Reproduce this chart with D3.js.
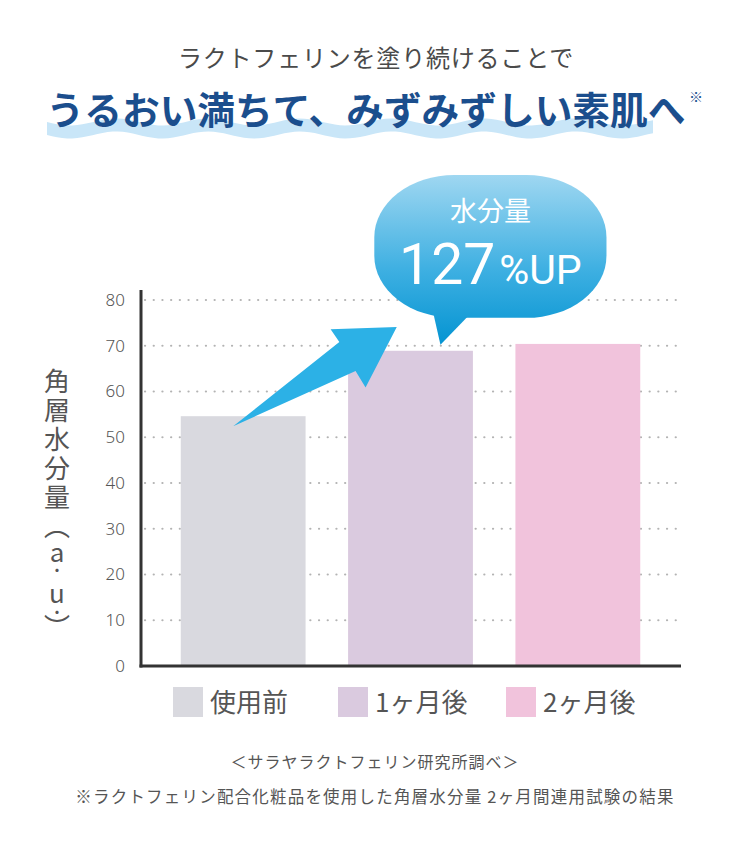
<!DOCTYPE html>
<html>
  <head>
    <meta http-equiv="Content-Type" content="text/html;charset=utf-8"/>
    <title>角層水分量</title>
    <script src="https://d3js.org/d3.v7.min.js"></script>
  </head>
  <body>
    <style>
      body { margin: 0; background: #fff; }
      svg text { font-family: "Noto Sans CJK JP", "Noto Sans", sans-serif; }
    </style>
    <script type="text/javascript">
        // data
        const categories = ['使用前', '1ヶ月後', '2ヶ月後']
        const values = [54.6, 68.9, 70.4]
        const barColors = ['#d9d9df', '#dacadf', '#f1c3dc']
        const yTicks = [0, 10, 20, 30, 40, 50, 60, 70, 80]
        const subTitle = 'ラクトフェリンを塗り続けることで'
        const mainTitle = 'うるおい満ちて、みずみずしい素肌へ'
        // vertical axis title, split so the unit part can be set tighter
        const yTitleChars = ['角', '層', '水', '分', '量', '（', 'a', '・', 'u', '・', '）']
        const yTitleSpacing = [3, 3, 3, 3, 3, 0, -2, 2, -1, -6, 0]
        const bubbleLabel = '水分量'
        const bubbleValue = '127'
        const bubbleUnit = '%UP'
        const notes = ['＜サラヤラクトフェリン研究所調べ＞', '※ラクトフェリン配合化粧品を使用した角層水分量 2ヶ月間連用試験の結果']

        const width = 750,
            height = 850

        const svg = d3.select('body').append('svg')
            .attr('width', width)
            .attr('height', height)

        const x = d3.scaleBand()
            .domain(categories)
            .range([159.5, 661.5])
            .paddingInner(0.254)
            .paddingOuter(0.127)

        const y = d3.scaleLinear()
            .domain([0, 80])
            .range([666, 300])

        const color = d3.scaleOrdinal().domain(categories).range(barColors)

        const axisX = 141, gridRight = 681

        // titles
        svg.append('text')
            .attr('x', 376).attr('y', 67)
            .attr('text-anchor', 'middle')
            .attr('font-size', 24)
            .attr('fill', '#4a4a4a')
            .style('letter-spacing', '0.8px')
            .text(subTitle)

        // wave band under the main title
        const waveLeft = 47, waveRight = 653
        const wave = d3.path()
        const wl = 92, amp = 3.5
        const steps = 120
        const pts = d3.range(steps + 1).map(i => waveLeft + (waveRight - waveLeft) * i / steps)
        pts.forEach((px, i) => {
            const py = 122 + amp * Math.sin((px - waveLeft) / wl * 2 * Math.PI)
            if (i === 0) wave.moveTo(px, py); else wave.lineTo(px, py)
        })
        pts.slice().reverse().forEach(px => {
            wave.lineTo(px, 135 + amp * Math.sin((px - waveLeft) / wl * 2 * Math.PI))
        })
        wave.closePath()
        svg.append('path')
            .attr('d', wave.toString())
            .attr('fill', '#c9e6f8')

        svg.append('text')
            .attr('x', 366).attr('y', 124)
            .attr('text-anchor', 'middle')
            .attr('font-size', 37.7)
            .attr('font-weight', 700)
            .attr('fill', '#1b4e8d')
            .text(mainTitle)

        svg.append('text')
            .attr('x', 689).attr('y', 102)
            .attr('font-size', 14)
            .attr('fill', '#1b4e8d')
            .text('※')

        // grid
        svg.append('g')
            .selectAll('line')
            .data(yTicks.filter(d => d > 0))
            .enter()
            .append('line')
            .attr('x1', axisX + 4)
            .attr('x2', gridRight)
            .attr('y1', d => y(d))
            .attr('y2', d => y(d))
            .attr('stroke', '#b3b3b3')
            .attr('stroke-width', 2.2)
            .attr('stroke-linecap', 'round')
            .attr('stroke-dasharray', '0.1,8.6')

        // bars
        svg.append('g')
            .selectAll('rect')
            .data(values)
            .enter()
            .append('rect')
            .attr('x', (d, i) => x(categories[i]))
            .attr('width', x.bandwidth())
            .attr('y', d => y(d))
            .attr('height', d => y(0) - y(d))
            .attr('fill', (d, i) => color(categories[i]))

        // axes
        const yAxis = svg.append('g')
            .attr('transform', `translate(${axisX},0)`)
            .call(d3.axisLeft(y).tickValues(yTicks).tickSize(0).tickPadding(16))
        yAxis.select('.domain').remove()
        yAxis.selectAll('text')
            .attr('font-size', 17)
            .attr('fill', '#555')
            .style('font-family', '"Noto Sans", sans-serif')
            .style('font-weight', 300)

        svg.append('line')
            .attr('x1', axisX).attr('x2', axisX)
            .attr('y1', 290).attr('y2', y(0) + 1.5)
            .attr('stroke', '#333').attr('stroke-width', 3)
        svg.append('line')
            .attr('x1', axisX - 1.5).attr('x2', gridRight)
            .attr('y1', y(0)).attr('y2', y(0))
            .attr('stroke', '#333').attr('stroke-width', 3)

        // y title (vertical writing)
        svg.append('text')
            .attr('x', 57).attr('y', 368)
            .attr('font-size', 26)
            .attr('fill', '#555')
            .style('writing-mode', 'vertical-rl')
            .style('text-orientation', 'upright')
            .selectAll('tspan')
            .data(yTitleChars)
            .enter()
            .append('tspan')
            .attr('font-size', d => d === '・' ? 15 : 26)
            .style('letter-spacing', (d, i) => yTitleSpacing[i] + 'px')
            .text(d => d)

        // arrow from first bar to second
        const b0 = x(categories[0]), b1 = x(categories[1]), bw = x.bandwidth()
        const arrowPts = [
            [b0 + bw * 0.42, y(52.4)],
            [b1 - bw * 0.07, y(70.8)],
            [b1 - bw * 0.14, y(73.6)],
            [b1 + bw * 0.39, y(74.1)],
            [b1 + bw * 0.14, y(60.9)],
            [b1 + bw * 0.06, y(64.5)]
        ]
        svg.append('path')
            .attr('d', d3.line()(arrowPts) + 'Z')
            .attr('fill', '#2cb1e6')

        // speech bubble
        const defs = svg.append('defs')
        const grad = defs.append('linearGradient')
            .attr('id', 'bubbleGrad')
            .attr('gradientUnits', 'userSpaceOnUse')
            .attr('x1', 0).attr('y1', 175).attr('x2', 0).attr('y2', 345)
        grad.append('stop').attr('offset', '0%').attr('stop-color', '#9fd7f1')
        grad.append('stop').attr('offset', '55%').attr('stop-color', '#3fb0e2')
        grad.append('stop').attr('offset', '100%').attr('stop-color', '#0494d2')

        const bl = b1 + bw * 0.21, br = b1 + bw * 2.07
        const bt = y(107.3), bb = y(76.1)
        svg.append('rect')
            .attr('x', bl).attr('y', bt)
            .attr('width', br - bl).attr('height', bb - bt)
            .attr('rx', 80).attr('ry', 62)
            .attr('fill', 'url(#bubbleGrad)')
        svg.append('path')
            .attr('d', d3.line()([
                [b1 + bw * 0.68, bb - 6],
                [b1 + bw * 0.74, y(70.2)],
                [b1 + bw * 0.98, bb - 4]
            ]) + 'Z')
            .attr('fill', 'url(#bubbleGrad)')

        const bc = (bl + br) / 2
        svg.append('text')
            .attr('x', bc).attr('y', 221)
            .attr('text-anchor', 'middle')
            .attr('font-size', 27)
            .attr('fill', '#fff')
            .text(bubbleLabel)
        const upText = svg.append('text')
            .attr('x', bc).attr('y', 284)
            .attr('text-anchor', 'middle')
            .attr('fill', '#fff')
            .style('font-family', 'Roboto, sans-serif')
        upText.append('tspan').attr('font-size', 57).text(bubbleValue)
        upText.append('tspan').attr('font-size', 41).attr('dx', 4).text(bubbleUnit)

        // legend
        const legendX = [173, 338, 506]
        const legend = svg.append('g')
            .selectAll('g')
            .data(categories)
            .enter()
            .append('g')
            .attr('transform', (d, i) => `translate(${legendX[i]},687)`)
        legend.append('rect')
            .attr('width', 30).attr('height', 30)
            .attr('fill', d => color(d))
        legend.append('text')
            .attr('x', 37).attr('y', 25)
            .attr('font-size', 26)
            .attr('fill', '#555')
            .text(d => d)

        // notes
        svg.selectAll('.note')
            .data(notes)
            .enter()
            .append('text')
            .attr('class', 'note')
            .attr('x', 375)
            .attr('y', (d, i) => 768 + i * 35)
            .attr('text-anchor', 'middle')
            .attr('font-size', (d, i) => i === 0 ? 16 : 16.5)
            .attr('fill', '#555')
            .style('letter-spacing', (d, i) => i === 0 ? '1px' : '1.2px')
            .text(d => d)
    </script>
  </body>
</html>
